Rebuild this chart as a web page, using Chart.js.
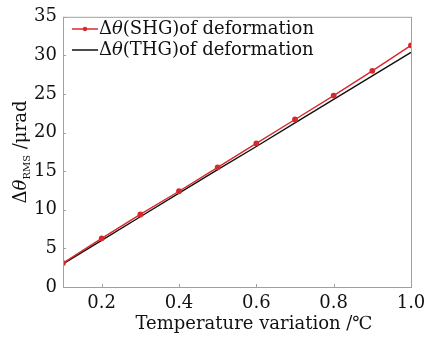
<!DOCTYPE html>
<html><head><meta charset="utf-8">
<script src="https://cdn.jsdelivr.net/npm/chart.js@4/dist/chart.umd.min.js"></script>
<style>html,body{margin:0;padding:0;background:#fff}#w{width:439px;height:338px;position:relative}</style>
</head><body><div id="w"><canvas id="c"></canvas></div>
<script>
const temps = [0.1,0.2,0.3,0.4,0.5,0.6,0.7,0.8,0.9,1.0];
const shg = [3.1,6.3,9.4,12.4,15.5,18.6,21.7,24.8,28.0,31.3];
const thg = [3.0,6.05,9.1,12.15,15.2,18.2,21.25,24.3,27.35,30.4];
const xTicks = [0.2,0.4,0.6,0.8,1.0];
const yTicks = [0,5,10,15,20,25,30,35];
const seriesNames = ["Δθ(SHG)of deformation","Δθ(THG)of deformation"];
const red = '#d8282c';
const FONT = '"DejaVu Serif",serif';
const FS = 18;
const axisCol = '#a0a0a0';

const deco = {
  id:'deco',
  afterDraw(chart){
    const ctx = chart.ctx, a = chart.chartArea;
    const xs = chart.scales.x, ys = chart.scales.y;
    ctx.save();
    ctx.strokeStyle = axisCol; ctx.lineWidth = 1;
    ctx.strokeRect(a.left+0.5, a.top+0.5, a.right-a.left, a.bottom-a.top);
    xTicks.forEach(v=>{const p=Math.round(xs.getPixelForValue(v))+0.5;ctx.beginPath();ctx.moveTo(p,a.bottom);ctx.lineTo(p,a.bottom-3);ctx.stroke();});
    yTicks.forEach(v=>{const p=Math.round(ys.getPixelForValue(v))+0.5;ctx.beginPath();ctx.moveTo(a.left,p);ctx.lineTo(a.left+3,p);ctx.stroke();});
    const items = [{c:red,m:true},{c:'#111',m:false}];
    items.forEach((it,i)=>{
      const y = 29 + i*21;
      ctx.strokeStyle = it.c; ctx.lineWidth = 1.5;
      ctx.beginPath(); ctx.moveTo(72,y); ctx.lineTo(98,y); ctx.stroke();
      if(it.m){ctx.fillStyle=it.c;ctx.beginPath();ctx.arc(85,y,2.2,0,Math.PI*2);ctx.fill();}
      ctx.fillStyle='#111'; ctx.textBaseline='middle'; ctx.textAlign='left';
      const name = seriesNames[i];
      let x = 99;
      const parts = [name.slice(0,1), name.slice(1,2), name.slice(2)];
      ctx.font = FS+'px '+FONT; ctx.fillText(parts[0],x,y); x+=ctx.measureText(parts[0]).width;
      ctx.font = 'italic '+FS+'px '+FONT; ctx.fillText(parts[1],x,y); x+=ctx.measureText(parts[1]).width;
      ctx.font = FS+'px '+FONT; ctx.fillText(parts[2],x,y);
    });
    ctx.fillStyle='#111'; ctx.font=FS+'px '+FONT; ctx.textAlign='center'; ctx.textBaseline='middle';
    ctx.fillText('Temperature variation /℃', 254, 324);
    ctx.translate(21, 152); ctx.rotate(-Math.PI/2);
    const segs = [['Δ',FS+'px '],['θ','italic '+FS+'px '],['RMS','10px '],[' /μrad',FS+'px ']];
    let tw=0; segs.forEach(s=>{ctx.font=s[1]+FONT; tw+=ctx.measureText(s[0]).width;});
    let x=-tw/2; ctx.textAlign='left';
    segs.forEach(s=>{ctx.font=s[1]+FONT; ctx.fillText(s[0],x,s[0]==='RMS'?6:0); x+=ctx.measureText(s[0]).width;});
    ctx.restore();
  }
};

new Chart(document.getElementById('c'),{
  type:'line',
  data:{datasets:[
    {label:seriesNames[0],data:temps.map((t,i)=>({x:t,y:shg[i]})),borderColor:red,backgroundColor:red,borderWidth:1.4,pointRadius:2.2,pointHoverRadius:2.2,order:0},
    {label:seriesNames[1],data:temps.map((t,i)=>({x:t,y:thg[i]})),borderColor:'#111',backgroundColor:'#111',borderWidth:1.4,pointRadius:0,order:1}
  ]},
  options:{
    responsive:true,maintainAspectRatio:false,animation:false,
    layout:{padding:{top:16,right:28,left:0,bottom:0}},
    plugins:{legend:{display:false},tooltip:{enabled:false}},
    scales:{
      x:{type:'linear',min:0.1,max:1.0,
        afterBuildTicks:s=>{s.ticks=xTicks.map(v=>({value:v}));},
        afterFit:s=>{s.height=51;},
        grid:{display:false,drawTicks:false},border:{display:false},
        ticks:{padding:6,color:'#111',font:{family:FONT,size:FS},callback:v=>v.toFixed(1)}},
      y:{min:0,max:35,
        afterBuildTicks:s=>{s.ticks=yTicks.map(v=>({value:v}));},
        afterFit:s=>{s.width=63;},
        grid:{display:false,drawTicks:false},border:{display:false},
        ticks:{padding:6,color:'#111',font:{family:FONT,size:FS}}}
    }
  },
  plugins:[deco]
});
</script></body></html>
